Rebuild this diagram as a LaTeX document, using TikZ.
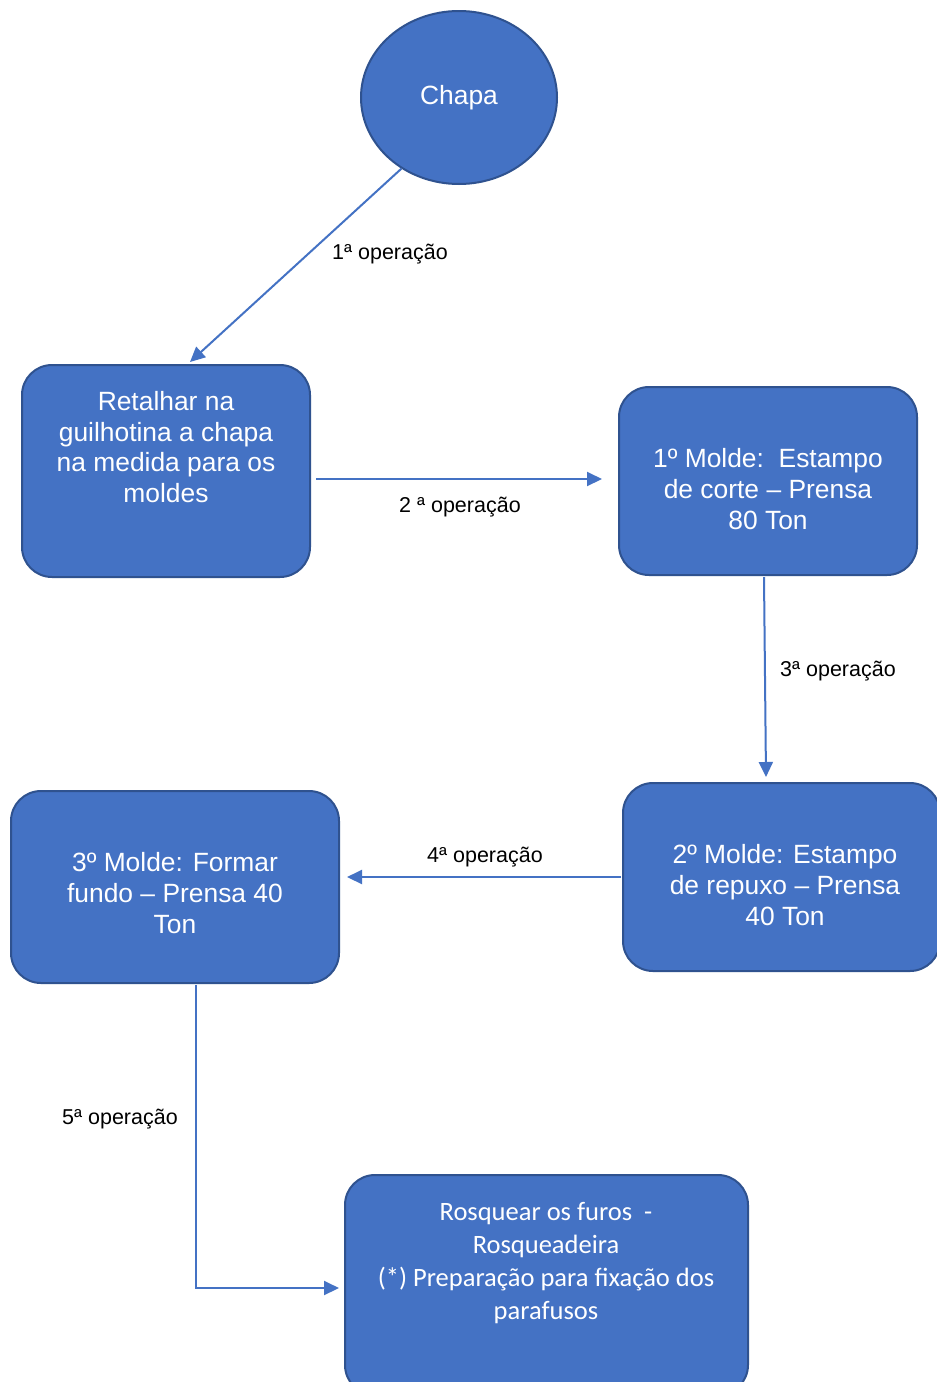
\documentclass[tikz,border=0pt]{standalone}
\usepackage{fontspec}
\setmainfont{Liberation Sans}
\newfontfamily\calibrifont{Carlito}
\usetikzlibrary{arrows.meta,calc,shapes.geometric}
\definecolor{boxfill}{HTML}{4472C4}
\definecolor{boxline}{HTML}{2F528F}
\definecolor{conncol}{HTML}{4472C4}
\begin{document}
\begin{tikzpicture}[x=1pt,y=-1pt,
  box/.style={draw=boxline,fill=boxfill,line width=2pt,rounded corners=30pt,inner sep=0pt},
  boxtext/.style={text=white,align=center,font=\fontsize{26.4}{30.7}\selectfont,inner sep=0pt},
  boxtextc/.style={text=white,align=center,font=\calibrifont\fontsize{26.5}{32.7}\selectfont,inner sep=0pt},
  conn/.style={draw=conncol,line width=2pt,-{Triangle[length=15pt,width=14pt]}},
  oplabel/.style={text=black,font=\fontsize{21.5}{25}\selectfont,inner sep=0pt}]
\useasboundingbox (0,0) rectangle (937,1382);
\fill[white] (0,0) rectangle (937,1382);
\clip (0,0) rectangle (937,1382);

% nodes
\node[ellipse,draw=boxline,fill=boxfill,line width=2pt,minimum width=196pt,minimum height=173pt,inner sep=0pt] (chapa) at (459,97.5) {};
\node[boxtext] (tchapa) at (459,98) {Chapa};

\node[box,minimum width=288pt,minimum height=212pt] (b1) at (166,471) {};
\node[boxtext] (t1) at (166,447) {Retalhar na\\guilhotina a chapa\\na medida para os\\moldes};

\node[box,minimum width=298pt,minimum height=188pt] (b2) at (768,481) {};
\node[boxtext] (t2) at (768,489) {1º Molde:\ \ Estampo\\de corte – Prensa\\80 Ton};

\node[box,minimum width=317pt,minimum height=188pt] (b3) at (781.5,877) {};
\node[boxtext] (t3) at (785,885) {2º Molde: Estampo\\de repuxo – Prensa\\40 Ton};

\node[box,minimum width=328pt,minimum height=192pt] (b4) at (175,887) {};
\node[boxtext] (t4) at (175,893) {3º Molde: Formar\\fundo – Prensa 40\\Ton};

\node[box,minimum width=403pt,minimum height=220pt] (b5) at (546.5,1285) {};
\node[boxtextc] (t5) at (546,1263) {Rosquear os furos\ \ -\\Rosqueadeira\\(*) Preparação para fixação dos\\parafusos};

% connectors
\draw[conn] (chapa.231) -- ($(b1.north)+(24,-2)$);
\draw[conn] ($(b1.east)+(5,8)$) -- ($(b2.west)+(-16,-2)$);
\draw[conn] ($(b2.south)+(-4,1)$) -- ($(b3.north)+(-15.5,-5)$);
\draw[conn] ($(b3.west)+(-1,0)$) -- ($(b4.east)+(7,-10)$);
\draw[conn] ($(b4.south)+(21,1)$) |- ($(b5.west)+(-5,3)$);

% labels
\node[oplabel] (l1) at (390,254) {1ª operação};
\node[oplabel] (l2) at (460,507) {2 ª operação};
\node[oplabel] (l3) at (838,671) {3ª operação};
\node[oplabel] (l4) at (485,857) {4ª operação};
\node[oplabel] (l5) at (120,1119) {5ª operação};
\end{tikzpicture}
\end{document}
